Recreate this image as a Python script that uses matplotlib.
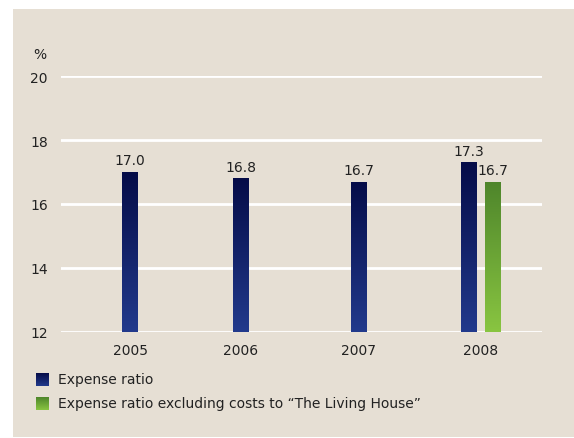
import numpy as np
import matplotlib
matplotlib.use("Agg")
import matplotlib.pyplot as plt
from matplotlib.patches import Rectangle
from matplotlib.colors import LinearSegmentedColormap

years = ["2005", "2006", "2007", "2008"]
expense_ratio = [17.0, 16.8, 16.7, 17.3]
excl_living_house = [None, None, None, 16.7]
y_ticks = [12, 14, 16, 18, 20]
series_labels = ["Expense ratio", "Expense ratio excluding costs to \u201cThe Living House\u201d"]

W, H = 574, 439
fig = plt.figure(figsize=(W / 100, H / 100), dpi=100)
fig.patch.set_facecolor("white")

panel_bg = "#e6dfd4"
fig.patches.append(Rectangle((13 / W, 1 - 438 / H), (W - 13) / W, (438 - 10) / H,
                             transform=fig.transFigure, facecolor=panel_bg,
                             edgecolor="none", zorder=-10))

# x axis measured in pixels across the plotting area
ax = fig.add_axes([61 / W, 1 - 333 / H, (542 - 61) / W, (333 - 77) / H], zorder=1)
ax.set_facecolor("none")
for s in ax.spines.values():
    s.set_visible(False)

ax.set_yticks(y_ticks)
ax.set_yticklabels([str(t) for t in y_ticks])
ax.tick_params(axis="both", length=0, labelsize=10, colors="#222222")
ax.tick_params(axis="y", pad=9.5)
ax.tick_params(axis="x", pad=8)
for t in y_ticks:
    ax.axhline(t, color="white", lw=2, zorder=1)

blue_cmap = LinearSegmentedColormap.from_list("blue", ["#223a8c", "#050c48"])
green_cmap = LinearSegmentedColormap.from_list("green", ["#89c541", "#4e852b"])
grad = np.linspace(0, 1, 256).reshape(-1, 1)

# group centres along the axis (in plot-area pixels) and bar geometry
group_centres = np.array([69, 179.5, 298, 420])
bw = 16
off = 12


def gradient_bars(xs, vals, cmap):
    bars = ax.bar(xs, [v - 12 for v in vals], bottom=12, width=bw,
                  color="none", edgecolor="none", zorder=2)
    for rect, v in zip(bars, vals):
        x0 = rect.get_x()
        im = ax.imshow(grad, cmap=cmap, origin="lower", aspect="auto",
                       extent=[x0, x0 + rect.get_width(), 12, v], zorder=2)
        im.set_clip_path(rect)
        ax.text(rect.get_x() + rect.get_width() / 2, v + 0.15, f"{v:.1f}",
                ha="center", va="bottom", fontsize=10, color="#222222", zorder=3)
    return bars


xs_blue = [c - off if excl_living_house[i] is not None else c
           for i, c in enumerate(group_centres)]
gradient_bars(xs_blue, expense_ratio, blue_cmap)
green_idx = [i for i, v in enumerate(excl_living_house) if v is not None]
gradient_bars([group_centres[i] + off for i in green_idx],
              [excl_living_house[i] for i in green_idx], green_cmap)

ax.set_xlim(0, 542 - 61)
ax.set_ylim(12, 20)
ax.set_xticks(group_centres)
ax.set_xticklabels(years)

fig.text(33 / W, 1 - 55 / H, "%", fontsize=10, color="#222222", va="center", ha="left")

# legend swatches with the same gradients
for row, cmap, label in [(0, blue_cmap, series_labels[0]), (1, green_cmap, series_labels[1])]:
    yc = 380 + row * 24
    lax = fig.add_axes([36 / W, 1 - (yc + 7) / H, 13 / W, 13 / H], zorder=1)
    lax.imshow(grad, cmap=cmap, origin="lower", aspect="auto")
    lax.axis("off")
    fig.text(58 / W, 1 - yc / H, label, fontsize=10, color="#222222", va="center", ha="left")

fig.savefig("out.png", dpi=100, facecolor=fig.get_facecolor())
